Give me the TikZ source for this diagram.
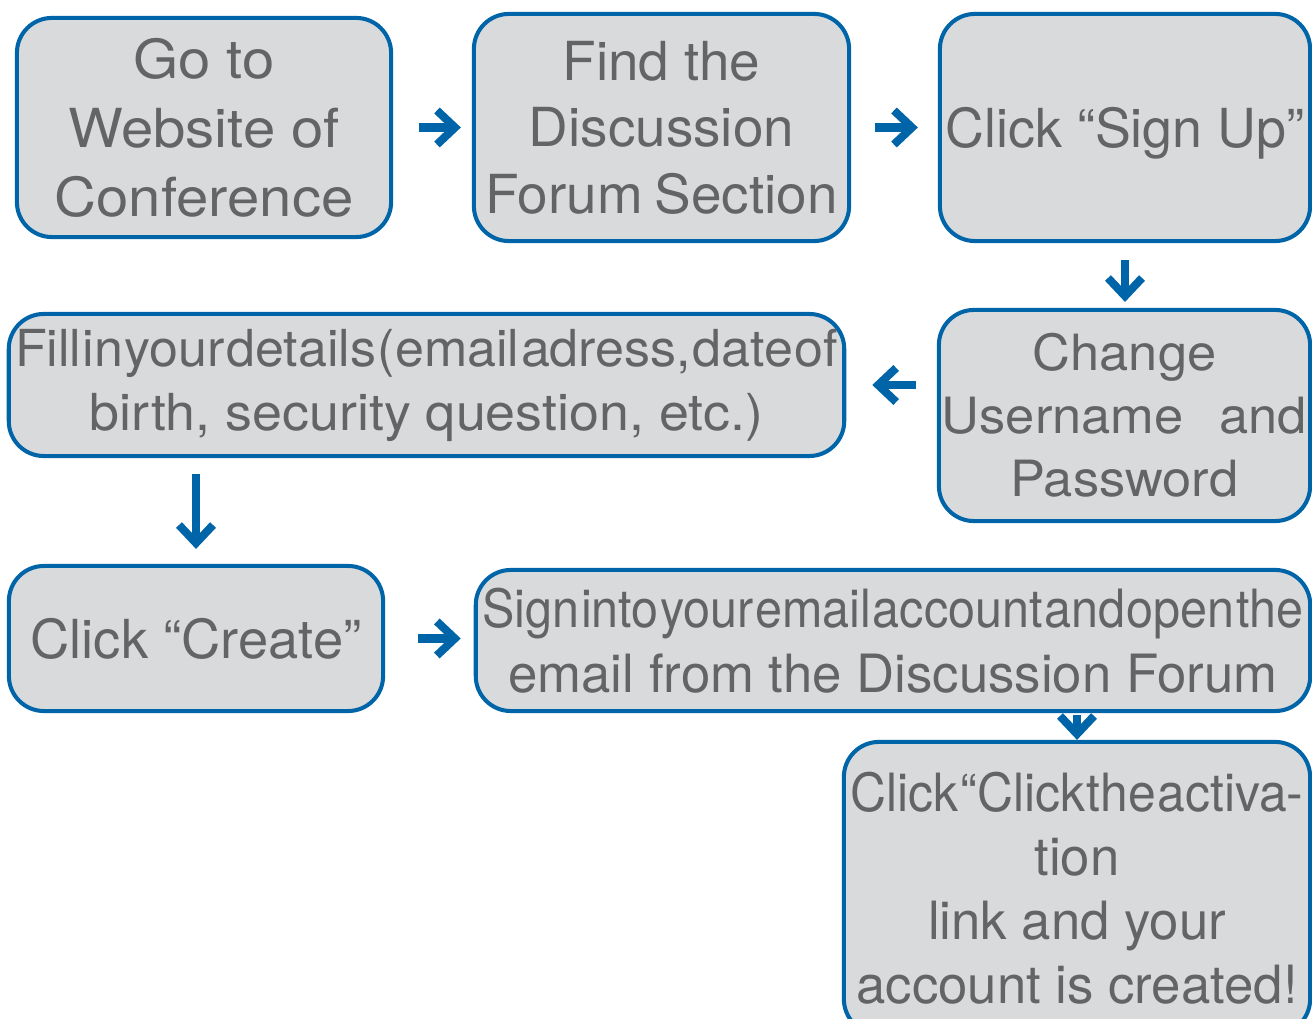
\documentclass[tikz,border=0pt]{standalone}
\usepackage{fontspec}
\setmainfont{TeX Gyre Heros}
\usetikzlibrary{arrows.meta}
\definecolor{boxFill}{RGB}{217,218,220}
\definecolor{boxBlue}{RGB}{0,101,168}
\definecolor{textGrey}{RGB}{99,100,102}
% squeezed line: narrower letters, almost no word space
\newcommand{\squeezed}[2]{{\addfontfeatures{FakeStretch=#1}\spaceskip=0.03em\relax #2}}
\tikzset{
  stepbox/.style={
    rectangle,
    rounded corners=0.35cm,
    draw=boxBlue,
    fill=boxFill,
    line width=1.15pt,
    text=textGrey,
    align=center,
    inner sep=0pt
  },
  flow/.style={
    ->,
    draw=boxBlue,
    line width=2.3pt
  }
}

\begin{document}
\begin{tikzpicture}[
      x=0.01cm, y=-0.01cm,
      >={Straight Barb[length=1.8mm,width=3.4mm]}
      ]
      \useasboundingbox (0,0) rectangle (1312,1019);
      \clip (0,0) rectangle (1312,1019);

      % first row
      \node[stepbox, minimum width=3.74cm, minimum height=2.19cm,
        font=\fontsize{15.3}{19.6}\selectfont\addfontfeatures{FakeStretch=1.08}]
        (website) at (204,127.5) {Go to\\Website of\\Conference};
      \node[stepbox, minimum width=3.75cm, minimum height=2.27cm,
        font=\fontsize{15.3}{18.9}\selectfont\addfontfeatures{FakeStretch=1.02}]
        (forum) at (661.5,127.5) {Find the\\Discussion\\Forum\hspace{0.12cm}Section};
      \node[stepbox, minimum width=3.70cm, minimum height=2.27cm, text depth=0pt,
        font=\fontsize{15.3}{18.9}\selectfont]
        (signup) at (1125,127.5) {Click “Sign Up”};

      % second row
      \node[stepbox, minimum width=3.71cm, minimum height=2.11cm,
        font=\fontsize{14.2}{17.9}\selectfont\addfontfeatures{FakeStretch=1.05}]
        (change) at (1124.5,415.5) {Change\\Username\hspace{0.36cm}and\\Password};
      \node[stepbox, minimum width=8.35cm, minimum height=1.42cm,
        font=\fontsize{14.5}{18.2}\selectfont\addfontfeatures{FakeStretch=1.055}]
        (details) at (426.5,385)
        {\squeezed{1.02}{Fill in your details (email adress, date of}\\birth, security question, etc.)};

      % third row
      \node[stepbox, minimum width=3.74cm, minimum height=1.45cm,
        font=\fontsize{15.3}{18.9}\selectfont\addfontfeatures{FakeStretch=1.01}]
        (create) at (196,638.5) {Click “Create”};
      \node[stepbox, minimum width=8.34cm, minimum height=1.41cm,
        font=\fontsize{15}{18.5}\selectfont]
        (mailbox) at (893,640.5)
        {\squeezed{0.92}{Sign into your email account and open the}\\email from the Discussion Forum};

      % last step, cut by the page edge
      \node[stepbox, minimum width=4.66cm, minimum height=2.92cm,
        font=\fontsize{15}{18.2}\selectfont]
        (activate) at (1077,888)
        {\squeezed{0.945}{Click “Click the activa-}\\tion\\link and your\\account is created!};

      \draw[flow, shorten <=0.26cm, shorten >=0.11cm] (website) -- (forum);
      \draw[flow, shorten <=0.24cm, shorten >=0.2cm] (forum) -- (signup);
      \draw[flow, shorten <=0.17cm, shorten >=0.06cm]
        (signup.south) -- (signup.south |- change.north);
      \draw[flow, shorten <=0.21cm, shorten >=0.26cm]
        (change.west |- details.east) -- (details.east);
      \draw[flow, shorten <=0.16cm, shorten >=0.15cm]
        (details.south -| create) -- (create.north);
      \draw[flow, shorten <=0.33cm, shorten >=0.13cm]
        (create.east) -- (create.east -| mailbox.west);
      \draw[flow, shorten <=0.02cm, shorten >=0cm]
        (mailbox.south -| activate) -- (activate.north);
\end{tikzpicture}
\end{document}
